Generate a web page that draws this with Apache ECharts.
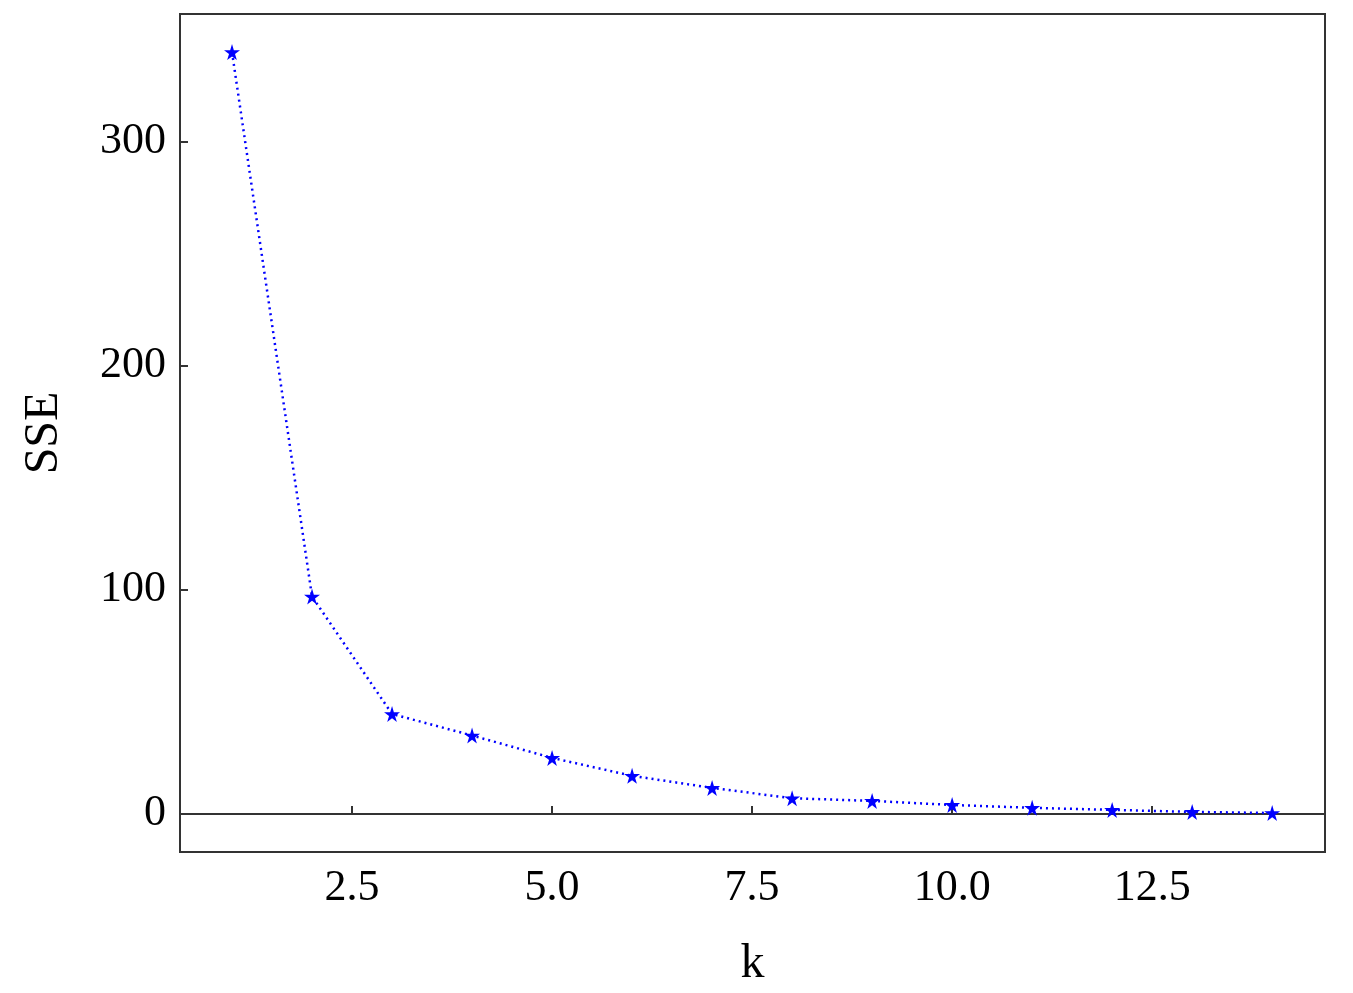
<!DOCTYPE html>
<html><head><meta charset="utf-8">
<script src="https://cdn.jsdelivr.net/npm/echarts@6/dist/echarts.min.js"></script>
<style>html,body{margin:0;padding:0;background:#fff}#c{width:1353px;height:993px}</style>
</head><body><div id="c"></div>
<script>
const kValues = [1,2,3,4,5,6,7,8,9,10,11,12,13,14];
const sseValues = [340,97,44.6,35,25,17,11.6,7,5.8,4,2.7,1.8,0.9,0.4];
const xTicks = [2.5,5,7.5,10,12.5];
const yTicks = [0,100,200,300];
const font = "'Liberation Serif','DejaVu Serif',serif";
const chart = echarts.init(document.getElementById('c'));
chart.setOption({
  animation:false,
  grid:{left:180,right:28,top:14,bottom:141,show:true,borderColor:'#333',borderWidth:2,backgroundColor:'#fff'},
  xAxis:{type:'value',min:0.35,max:14.66,name:'k',nameLocation:'middle',nameGap:88,
    nameTextStyle:{fontFamily:font,fontSize:48,color:'#000'},
    axisLine:{show:true,lineStyle:{color:'#333',width:2}},
    axisTick:{show:true,inside:true,length:8,customValues:xTicks,lineStyle:{color:'#333',width:2}},
    axisLabel:{customValues:xTicks,formatter:v=>Number(v).toFixed(1),fontFamily:font,fontSize:44,color:'#000',margin:14},
    splitLine:{show:false}},
  yAxis:{type:'value',min:-17,max:357,name:'SSE',nameLocation:'middle',nameGap:112,
    nameTextStyle:{fontFamily:font,fontSize:48,color:'#000'},
    axisLine:{show:true,lineStyle:{color:'#333',width:2}},
    axisTick:{show:true,inside:true,length:8,customValues:yTicks,lineStyle:{color:'#333',width:2}},
    axisLabel:{customValues:yTicks,fontFamily:font,fontSize:44,color:'#000',margin:14},
    splitLine:{show:false}},
  series:[{type:'line',data:kValues.map((k,i)=>[k,sseValues[i]]),
    symbol:'path://M50,0 L61,35 L98,35 L68,57 L79,91 L50,70 L21,91 L32,57 L2,35 L39,35 Z',
    symbolSize:16,itemStyle:{color:'#0000ff'},
    lineStyle:{color:'#0000ff',width:2.5,type:[2,4]}}]
});
</script></body></html>
